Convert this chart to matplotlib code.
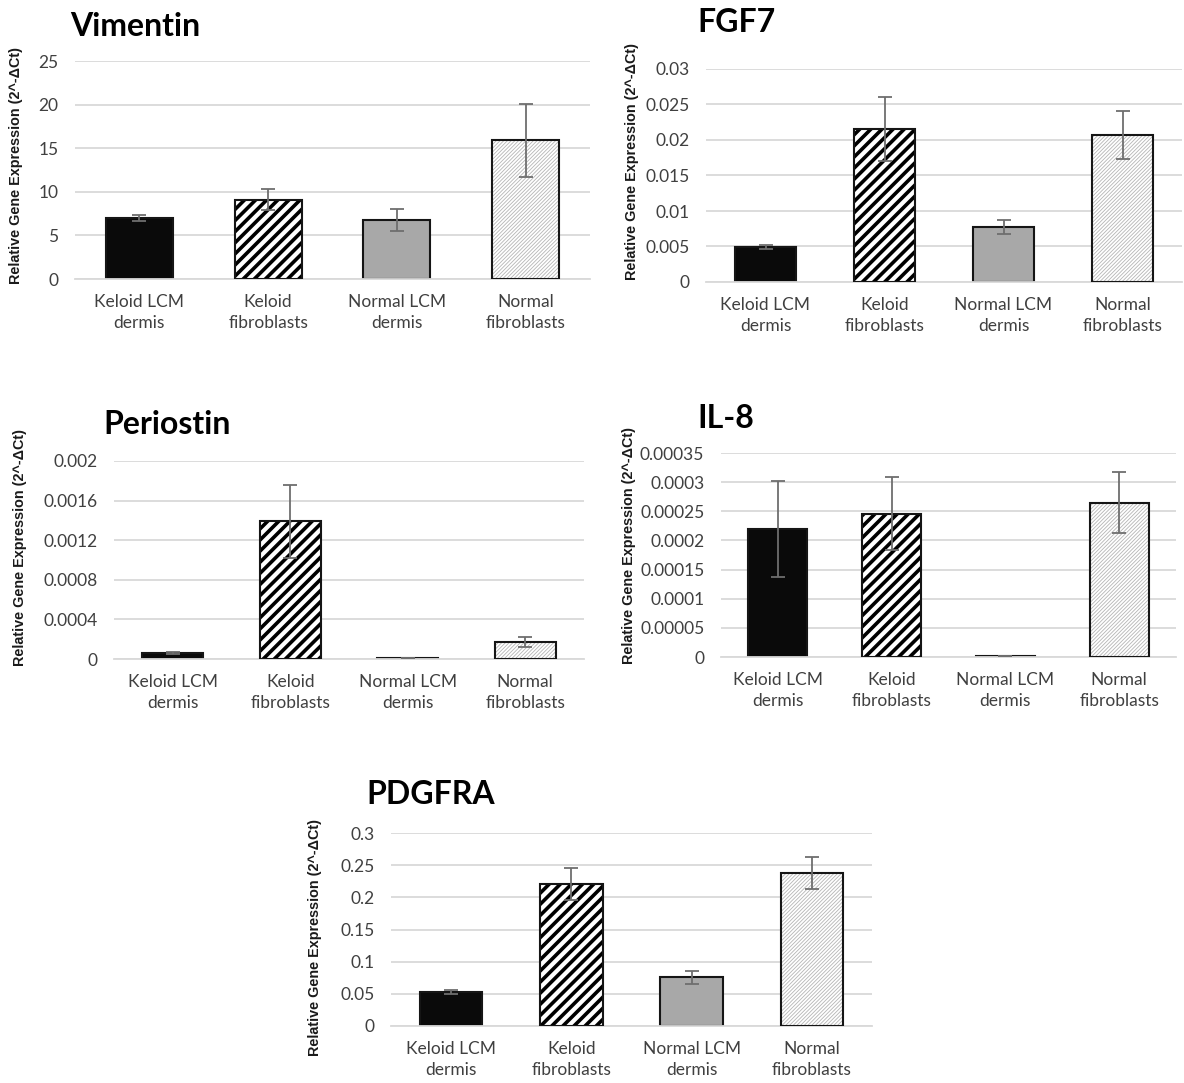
import matplotlib
matplotlib.use("Agg")
import matplotlib.pyplot as plt

W, H = 1184, 1083
DPI = 100

categories = ["Keloid LCM\ndermis", "Keloid\nfibroblasts", "Normal LCM\ndermis", "Normal\nfibroblasts"]

vimentin_vals = [7.0, 9.1, 6.8, 15.9]
vimentin_err = [0.35, 1.2, 1.25, 4.15]
vimentin_ticks = [0, 5, 10, 15, 20, 25]
vimentin_ticklabels = ["0", "5", "10", "15", "20", "25"]

fgf7_vals = [0.0049, 0.0215, 0.0077, 0.0207]
fgf7_err = [0.0003, 0.0045, 0.001, 0.0034]
fgf7_ticks = [0, 0.005, 0.01, 0.015, 0.02, 0.025, 0.03]
fgf7_ticklabels = ["0", "0.005", "0.01", "0.015", "0.02", "0.025", "0.03"]

periostin_vals = [0.00006, 0.00139, 0.00001, 0.00017]
periostin_err = [0.00001, 0.00037, 0.000002, 0.00005]
periostin_ticks = [0, 0.0004, 0.0008, 0.0012, 0.0016, 0.002]
periostin_ticklabels = ["0", "0.0004", "0.0008", "0.0012", "0.0016", "0.002"]

il8_vals = [0.00022, 0.000246, 0.0000015, 0.000265]
il8_err = [0.000082, 0.000063, 0.0000003, 0.000052]
il8_ticks = [0, 0.00005, 0.0001, 0.00015, 0.0002, 0.00025, 0.0003, 0.00035]
il8_ticklabels = ["0", "0.00005", "0.0001", "0.00015", "0.0002", "0.00025", "0.0003", "0.00035"]

pdgfra_vals = [0.053, 0.221, 0.076, 0.238]
pdgfra_err = [0.003, 0.025, 0.010, 0.025]
pdgfra_ticks = [0, 0.05, 0.1, 0.15, 0.2, 0.25, 0.3]
pdgfra_ticklabels = ["0", "0.05", "0.1", "0.15", "0.2", "0.25", "0.3"]

ylabel_text = "Relative Gene Expression (2^-\u0394Ct)"

FONT = ["Lato", "DejaVu Sans"]
plt.rcParams["font.family"] = FONT

fig = plt.figure(figsize=(W / DPI, H / DPI), dpi=DPI)


def rect(x0, x1, ytop, ybot):
    return [x0 / W, 1 - ybot / H, (x1 - x0) / W, (ybot - ytop) / H]


# name, values, errors, ticks, ticklabels, axes px box, title pos, ylabel pos
panels = [
    ("Vimentin", vimentin_vals, vimentin_err, vimentin_ticks, vimentin_ticklabels,
     (75, 590, 61, 279), (70, 26), (16, 165)),
    ("FGF7", fgf7_vals, fgf7_err, fgf7_ticks, fgf7_ticklabels,
     (706, 1182, 69, 282), (697, 23), (632, 161)),
    ("Periostin", periostin_vals, periostin_err, periostin_ticks, periostin_ticklabels,
     (114, 584, 461, 659), (103, 425), (20, 547)),
    ("IL-8", il8_vals, il8_err, il8_ticks, il8_ticklabels,
     (721, 1176, 453, 657), (697, 418), (629, 546)),
    ("PDGFRA", pdgfra_vals, pdgfra_err, pdgfra_ticks, pdgfra_ticklabels,
     (391, 872, 833, 1026), (366, 794), (315, 937)),
]

bar_w = 0.52
edge_col = "#151515"
err_col = "#6e6e6e"
grid_col = "#d9d9d9"
text_col = "#404040"

for name, vals, errs, ticks, tlabels, box, tpos, ypos in panels:
    ax = fig.add_axes(rect(*box))
    xs = list(range(len(categories)))
    ax.set_xlim(-0.5, len(categories) - 0.5)
    ax.set_ylim(0, ticks[-1])
    ax.set_yticks(ticks)
    ax.set_yticklabels(tlabels)
    ax.set_xticks(xs)
    ax.set_xticklabels(categories, linespacing=1.4)
    ax.tick_params(axis="both", length=0, colors=text_col)
    ax.tick_params(axis="x", pad=11, labelsize=12.5)
    ax.tick_params(axis="y", pad=12, labelsize=12.5)
    for s in ["top", "right", "left"]:
        ax.spines[s].set_visible(False)
    ax.spines["bottom"].set_color(grid_col)
    ax.spines["bottom"].set_linewidth(1.3)
    ax.yaxis.grid(True, color=grid_col, linewidth=1.3)
    ax.set_axisbelow(True)

    # Keloid LCM dermis: solid black
    ax.bar(xs[0], vals[0], bar_w, color="#0a0a0a", edgecolor=edge_col, linewidth=1.5, zorder=2)
    # Keloid fibroblasts: bold black diagonal stripes
    with plt.rc_context({"hatch.linewidth": 2.6, "hatch.color": "black"}):
        b = ax.bar(xs[1], vals[1], bar_w, color="white", edgecolor="black", hatch="///",
                   linewidth=0, zorder=2)
        for p in b:
            if hasattr(p, "set_hatch_linewidth"):
                p.set_hatch_linewidth(2.6)
    ax.bar(xs[1], vals[1], bar_w, fill=False, edgecolor=edge_col, linewidth=1.5, zorder=3)
    # Normal LCM dermis: gray
    ax.bar(xs[2], vals[2], bar_w, color="#a8a8a8", edgecolor=edge_col, linewidth=1.5, zorder=2)
    # Normal fibroblasts: fine gray stripes
    with plt.rc_context({"hatch.linewidth": 0.6, "hatch.color": "#b5b5b5"}):
        b = ax.bar(xs[3], vals[3], bar_w, color="white", edgecolor="#b5b5b5", hatch="/////////",
                   linewidth=0, zorder=2)
        for p in b:
            if hasattr(p, "set_hatch_linewidth"):
                p.set_hatch_linewidth(0.6)
    ax.bar(xs[3], vals[3], bar_w, fill=False, edgecolor=edge_col, linewidth=1.5, zorder=3)

    ax.errorbar(xs, vals, yerr=errs, fmt="none", ecolor=err_col, elinewidth=1.3,
                capsize=5, capthick=1.3, zorder=4)

    fig.text(tpos[0] / W, 1 - tpos[1] / H, name, fontsize=23, fontweight="bold",
             ha="left", va="center", color="black")
    fig.text(ypos[0] / W, 1 - ypos[1] / H, ylabel_text, rotation=90, fontsize=10.4,
             fontweight="bold", ha="center", va="center", color="#1a1a1a",
             family=["Liberation Sans", "DejaVu Sans"])

fig.savefig("out.png", dpi=DPI)
